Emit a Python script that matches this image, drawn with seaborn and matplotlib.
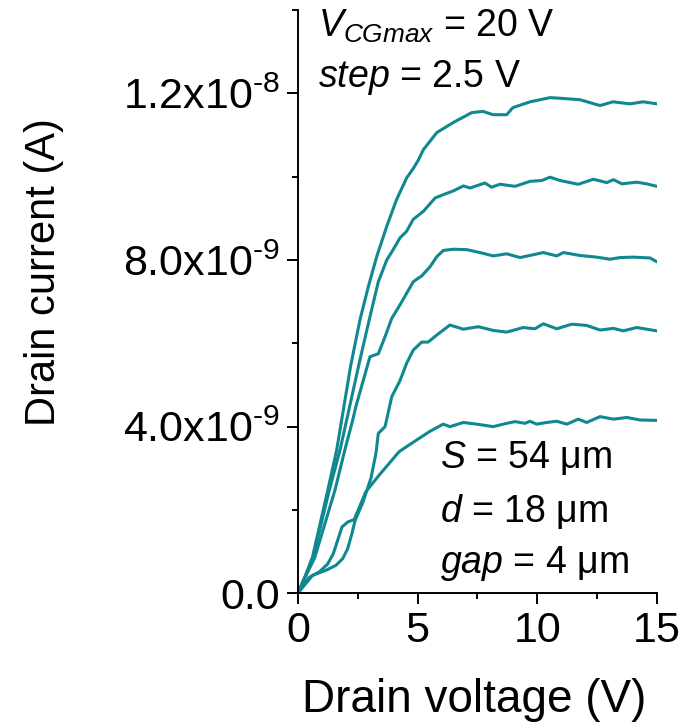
import numpy as np
import pandas as pd
import matplotlib
matplotlib.use("Agg")
import matplotlib.pyplot as plt
from matplotlib.ticker import FuncFormatter, MultipleLocator
import seaborn as sns

# Output characteristics, drain current in nA, one curve per control-gate voltage
v_top = [0, 0.3, 0.61, 1.25, 1.62, 2.2, 2.59, 2.94, 3.29, 3.71, 4.12, 4.54, 4.82, 5.03, 5.24,
         5.80, 6.48, 7.26, 7.73, 8.15, 8.72, 8.98, 9.70, 10.53, 11.07, 11.78, 12.62, 13.16,
         13.87, 14.42, 15.0]
i_top = [0, 0.40, 0.87, 2.48, 3.44, 5.45, 6.56, 7.36, 8.08, 8.81, 9.45, 9.97, 10.20, 10.40, 10.65,
         11.06, 11.30, 11.54, 11.57, 11.49, 11.49, 11.66, 11.80, 11.90, 11.88, 11.85, 11.71, 11.80,
         11.75, 11.80, 11.75]

v_2 = [0, 0.3, 0.63, 1.3, 1.76, 2.59, 3.01, 3.36, 3.71, 3.98, 4.26, 4.54, 4.82, 5.24, 5.73,
       6.07, 6.49, 6.91, 7.19, 7.81, 8.09, 8.44, 9.07, 9.69, 10.18, 10.53, 10.95, 11.71, 12.34,
       12.90, 13.18, 13.53, 14.15, 14.57, 14.99]
i_2 = [0, 0.40, 0.85, 2.45, 3.44, 5.60, 6.64, 7.48, 8.00, 8.25, 8.53, 8.69, 8.98, 9.17, 9.49,
       9.57, 9.66, 9.78, 9.73, 9.85, 9.75, 9.82, 9.77, 9.89, 9.91, 9.99, 9.91, 9.82, 9.94,
       9.86, 9.93, 9.83, 9.87, 9.83, 9.77]

v_3 = [0, 0.3, 0.7, 1.55, 1.96, 2.29, 2.42, 3.01, 3.36, 3.64, 3.92, 4.26, 4.82, 5.17, 5.52,
       5.80, 6.07, 6.49, 7.05, 7.61, 8.16, 8.72, 9.28, 10.25, 10.81, 11.09, 11.78, 12.48, 13.04,
       13.46, 14.01, 14.71, 14.99]
i_3 = [0, 0.38, 0.85, 2.48, 3.44, 4.16, 4.48, 5.68, 5.75, 6.16, 6.60, 6.92, 7.48, 7.62, 7.84,
       8.08, 8.23, 8.26, 8.25, 8.18, 8.10, 8.15, 8.06, 8.18, 8.10, 8.18, 8.11, 8.07, 8.02,
       8.06, 8.07, 8.05, 7.96]

v_4 = [0, 0.61, 1.17, 1.59, 1.87, 2.08, 2.26, 2.39, 2.70, 3.05, 3.26, 3.36, 3.64, 3.92, 4.26,
       4.54, 4.82, 5.17, 5.44, 5.80, 6.35, 6.91, 7.53, 8.16, 8.72, 9.41, 9.90, 10.25, 10.81,
       11.44, 12.06, 12.62, 13.18, 13.59, 14.15, 14.99]
i_4 = [0, 0.43, 0.55, 0.67, 0.83, 1.07, 1.44, 1.75, 2.16, 2.76, 3.36, 3.84, 4.00, 4.72, 5.10,
       5.52, 5.84, 6.03, 6.03, 6.20, 6.44, 6.34, 6.40, 6.31, 6.27, 6.38, 6.35, 6.47, 6.35,
       6.46, 6.43, 6.32, 6.36, 6.30, 6.38, 6.30]

v_5 = [0, 0.47, 0.89, 1.24, 1.48, 1.66, 1.84, 2.08, 2.35, 2.84, 3.40, 4.23, 4.96, 5.52, 6.07,
       6.35, 6.91, 7.47, 8.16, 8.72, 9.07, 9.49, 9.69, 9.97, 10.39, 10.81, 11.23, 11.71, 12.06,
       12.62, 13.18, 13.74, 14.29, 14.99]
i_5 = [0, 0.38, 0.51, 0.70, 0.95, 1.27, 1.59, 1.71, 1.77, 2.44, 2.84, 3.40, 3.68, 3.89, 4.06,
       4.00, 4.10, 4.06, 4.00, 4.08, 4.12, 4.08, 4.13, 4.06, 4.10, 4.13, 4.06, 4.18, 4.10,
       4.24, 4.18, 4.22, 4.16, 4.15]

curves = {"20.0": (v_top, i_top), "17.5": (v_2, i_2), "15.0": (v_3, i_3),
          "12.5": (v_4, i_4), "10.0": (v_5, i_5)}

frames = []
for name, (v, i) in curves.items():
    frames.append(pd.DataFrame({"V": v, "I": np.array(i) * 1e-9, "Vcg": name}))
df = pd.concat(frames, ignore_index=True)

sns.set_style("ticks")
plt.rcParams["font.family"] = ["Liberation Sans", "DejaVu Sans"]
plt.rcParams["mathtext.fontset"] = "custom"
plt.rcParams["mathtext.rm"] = "Liberation Sans"
plt.rcParams["mathtext.it"] = "Liberation Sans:italic"
plt.rcParams["mathtext.default"] = "regular"
for key in ["text.color", "axes.labelcolor", "xtick.color", "ytick.color",
            "xtick.labelcolor", "ytick.labelcolor", "axes.edgecolor"]:
    plt.rcParams[key] = "black"

teal = "#0f8891"
fig = plt.figure(figsize=(6.88, 7.27), dpi=100)
ax = fig.add_axes([0.433, 0.184, 0.522, 0.802])

sns.lineplot(data=df, x="V", y="I", hue="Vcg", palette=[teal] * 5, sort=False,
             estimator=None, legend=False, linewidth=2.2, ax=ax)

ax.set_xlim(0, 15)
ax.set_ylim(0, 1.4e-8)
ax.xaxis.set_major_locator(MultipleLocator(5))
ax.xaxis.set_minor_locator(MultipleLocator(2.5))
ax.yaxis.set_major_locator(MultipleLocator(4e-9))
ax.yaxis.set_minor_locator(MultipleLocator(2e-9))


def sci_label(val, pos):
    if abs(val) < 1e-15:
        return "0.0"
    exp = int(np.floor(np.log10(abs(val))))
    mant = val / 10 ** exp
    sign = "\u2010" if exp < 0 else ""
    return f"{mant:.1f}x10$^{{{sign}{abs(exp)}}}$"


ax.yaxis.set_major_formatter(FuncFormatter(sci_label))
ax.tick_params(axis="both", which="major", direction="out", length=8, width=1.4,
               labelsize=31, pad=5, color="black")
ax.tick_params(axis="both", which="minor", direction="out", length=4, width=1.4, color="black")
for s in ["left", "bottom"]:
    ax.spines[s].set_linewidth(1.4)
    ax.spines[s].set_color("black")
sns.despine(ax=ax)

ax.set_xlabel("Drain voltage (V)", fontsize=33)
ax.set_ylabel("Drain current (A)", fontsize=30)
ax.xaxis.set_label_coords(0.49, -0.145)
ax.yaxis.set_label_coords(-0.65, 0.55)

fs = 27
ax.text(0.055, 0.955, r"$\it{V}_{\it{CGmax}}$ = 20 V", transform=ax.transAxes, fontsize=fs, va="baseline")
ax.text(0.055, 0.868, r"$\it{step}$ = 2.5 V", transform=ax.transAxes, fontsize=fs, va="baseline")
ax.text(0.395, 0.214, r"$\it{S}$ = 54 μm", transform=ax.transAxes, fontsize=fs, va="baseline")
ax.text(0.395, 0.123, r"$\it{d}$ = 18 μm", transform=ax.transAxes, fontsize=fs, va="baseline")
ax.text(0.395, 0.034, r"$\it{gap}$ = 4 μm", transform=ax.transAxes, fontsize=fs, va="baseline")

fig.savefig("out.png", dpi=100)
